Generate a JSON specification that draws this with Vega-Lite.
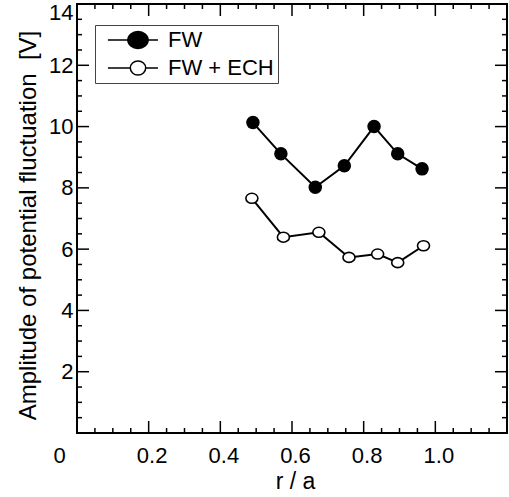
{
  "$schema": "https://vega.github.io/schema/vega-lite/v6.json",
  "width": 430,
  "height": 429,
  "autosize": {"type": "none"},
  "padding": {"left": 77, "top": 4, "right": 2, "bottom": 64},
  "view": {"stroke": null},
  "data": {
    "values": [
      {"r": 0.491, "amp": 10.13, "series": "FW"},
      {"r": 0.569, "amp": 9.11, "series": "FW"},
      {"r": 0.665, "amp": 8.02, "series": "FW"},
      {"r": 0.746, "amp": 8.72, "series": "FW"},
      {"r": 0.829, "amp": 10.0, "series": "FW"},
      {"r": 0.895, "amp": 9.11, "series": "FW"},
      {"r": 0.963, "amp": 8.62, "series": "FW"},
      {"r": 0.488, "amp": 7.66, "series": "FW + ECH"},
      {"r": 0.576, "amp": 6.39, "series": "FW + ECH"},
      {"r": 0.675, "amp": 6.55, "series": "FW + ECH"},
      {"r": 0.759, "amp": 5.73, "series": "FW + ECH"},
      {"r": 0.839, "amp": 5.84, "series": "FW + ECH"},
      {"r": 0.895, "amp": 5.56, "series": "FW + ECH"},
      {"r": 0.967, "amp": 6.11, "series": "FW + ECH"}
    ]
  },
  "datasets": {
    "xmaj": [{"v": 0.2}, {"v": 0.4}, {"v": 0.6}, {"v": 0.8}, {"v": 1.0}],
    "xmin": [{"v": 0.05}, {"v": 0.1}, {"v": 0.15}, {"v": 0.25}, {"v": 0.3}, {"v": 0.35}, {"v": 0.45}, {"v": 0.5}, {"v": 0.55}, {"v": 0.65}, {"v": 0.7}, {"v": 0.75}, {"v": 0.85}, {"v": 0.9}, {"v": 0.95}, {"v": 1.05}, {"v": 1.1}, {"v": 1.15}],
    "ymaj": [{"v": 2}, {"v": 4}, {"v": 6}, {"v": 8}, {"v": 10}, {"v": 12}],
    "ymin": [{"v": 0.5}, {"v": 1}, {"v": 1.5}, {"v": 2.5}, {"v": 3}, {"v": 3.5}, {"v": 4.5}, {"v": 5}, {"v": 5.5}, {"v": 6.5}, {"v": 7}, {"v": 7.5}, {"v": 8.5}, {"v": 9}, {"v": 9.5}, {"v": 10.5}, {"v": 11}, {"v": 11.5}, {"v": 12.5}, {"v": 13}, {"v": 13.5}],
    "frame": [{}]
  },
  "resolve": {"axis": {"x": "independent", "y": "independent"}},
  "layer": [
    {
      "transform": [{"filter": "datum.series == 'FW'"}],
      "mark": {"type": "line", "color": "black", "strokeWidth": 2},
      "encoding": {
        "x": {"field": "r", "type": "quantitative", "scale": {"domain": [0, 1.2], "nice": false, "zero": false},
          "axis": {"orient": "bottom", "values": [0, 0.2, 0.4, 0.6, 0.8, 1.0], "grid": false, "domain": false, "ticks": false, "labelFont": "Liberation Sans", "labelColor": "black", "labelFontSize": 22, "labelPadding": 12, "labelFlush": false, "labelOverlap": false,
            "labelOffset": {"condition": {"test": "datum.value == 0", "value": -18}, "value": 3},
            "labelExpr": "datum.value == 0 ? '0' : format(datum.value, '.1f')",
            "title": "r / a", "titleFont": "Liberation Sans", "titleFontWeight": "normal", "titleColor": "black", "titleFontSize": 23, "titleX": 218, "titleY": 37}},
        "y": {"field": "amp", "type": "quantitative", "scale": {"domain": [0, 14], "nice": false, "zero": false},
          "axis": {"orient": "left", "values": [2, 4, 6, 8, 10, 12, 14], "grid": false, "domain": false, "ticks": false, "labelFont": "Liberation Sans", "labelColor": "black", "labelFontSize": 22, "labelPadding": 4, "labelOverlap": false,
            "labelOffset": {"condition": {"test": "datum.value == 14", "value": 8}, "value": 0},
            "title": "Amplitude of potential fluctuation\u00a0\u00a0[V]", "titleFont": "Liberation Sans", "titleFontWeight": "normal", "titleColor": "black", "titleFontSize": 24, "titlePadding": 8, "titleY": 221}}
      }
    },
    {
      "transform": [{"filter": "datum.series == 'FW + ECH'"}],
      "mark": {"type": "line", "color": "black", "strokeWidth": 2},
      "encoding": {
        "x": {"field": "r", "type": "quantitative", "scale": {"domain": [0, 1.2], "nice": false, "zero": false}, "axis": null},
        "y": {"field": "amp", "type": "quantitative", "scale": {"domain": [0, 14], "nice": false, "zero": false}, "axis": null}
      }
    },
    {
      "transform": [{"filter": "datum.series == 'FW'"}],
      "mark": {"type": "point", "shape": "circle", "filled": true, "color": "black", "size": 182, "opacity": 1},
      "encoding": {
        "x": {"field": "r", "type": "quantitative", "scale": {"domain": [0, 1.2], "nice": false, "zero": false}, "axis": null},
        "y": {"field": "amp", "type": "quantitative", "scale": {"domain": [0, 14], "nice": false, "zero": false}, "axis": null}
      }
    },
    {
      "transform": [{"filter": "datum.series == 'FW + ECH'"}],
      "mark": {"type": "point", "shape": "M-1.2,0A1.2,1,0,1,0,1.2,0A1.2,1,0,1,0,-1.2,0Z", "filled": true, "fill": "white", "stroke": "black", "strokeWidth": 1.6, "size": 100, "opacity": 1},
      "encoding": {
        "x": {"field": "r", "type": "quantitative", "scale": {"domain": [0, 1.2], "nice": false, "zero": false}, "axis": null},
        "y": {"field": "amp", "type": "quantitative", "scale": {"domain": [0, 14], "nice": false, "zero": false}, "axis": null}
      }
    },
    {
      "transform": [{"filter": "datum.amp < 0"}],
      "mark": {"type": "point", "filled": true, "stroke": "black", "strokeWidth": 1.5, "opacity": 1},
      "encoding": {
        "x": {"field": "r", "type": "quantitative", "scale": {"domain": [0, 1.2], "nice": false, "zero": false}, "axis": null},
        "y": {"field": "amp", "type": "quantitative", "scale": {"domain": [0, 14], "nice": false, "zero": false}, "axis": null},
        "shape": {"field": "series", "type": "nominal",
          "scale": {"domain": ["FW", "FW + ECH"], "range": [
            "M-4.3,0L-1.45,0M1.45,0L2.85,0M-1.45,0A1.45,1.2,0,1,0,1.45,0A1.45,1.2,0,1,0,-1.45,0Z",
            "M-4.3,0L-1.1,0M1.1,0L2.85,0M-1.1,0A1.1,1,0,1,0,1.1,0A1.1,1,0,1,0,-1.1,0Z"]},
          "legend": {"title": null, "orient": "none", "legendX": 18, "legendY": 21, "strokeColor": "#444", "fillColor": "white", "padding": 4, "symbolSize": 196, "symbolOffset": 28, "labelOffset": 19, "labelFontSize": 22, "labelFont": "Liberation Sans", "labelColor": "black", "rowPadding": 5, "symbolStrokeColor": "black", "symbolStrokeWidth": 1.5, "symbolOpacity": 1,
            "encode": {"symbols": {"update": {"stroke": {"value": "black"}, "strokeWidth": {"value": 1.5}}}}}},
        "fill": {"field": "series", "type": "nominal",
          "scale": {"domain": ["FW", "FW + ECH"], "range": ["black", "white"]},
          "legend": {"title": null, "orient": "none", "legendX": 18, "legendY": 21, "strokeColor": "#444", "fillColor": "white", "padding": 4, "symbolSize": 196, "symbolOffset": 28, "labelOffset": 19, "labelFontSize": 22, "labelFont": "Liberation Sans", "labelColor": "black", "rowPadding": 5, "symbolStrokeColor": "black", "symbolStrokeWidth": 1.5, "symbolOpacity": 1,
            "encode": {"symbols": {"update": {"stroke": {"value": "black"}, "strokeWidth": {"value": 1.5}}}}}}
      }
    },
    {
      "data": {"name": "xmaj"},
      "mark": {"type": "tick", "orient": "vertical", "size": 24, "thickness": 1.5, "color": "black", "opacity": 1, "clip": true},
      "encoding": {
        "x": {"field": "v", "type": "quantitative", "scale": {"domain": [0, 1.2], "nice": false, "zero": false}, "axis": null},
        "y": {"datum": 0, "type": "quantitative", "scale": {"domain": [0, 14], "nice": false, "zero": false}, "axis": null}
      }
    },
    {
      "data": {"name": "xmaj"},
      "mark": {"type": "tick", "orient": "vertical", "size": 24, "thickness": 1.5, "color": "black", "opacity": 1, "clip": true},
      "encoding": {
        "x": {"field": "v", "type": "quantitative", "scale": {"domain": [0, 1.2], "nice": false, "zero": false}, "axis": null},
        "y": {"datum": 14, "type": "quantitative", "scale": {"domain": [0, 14], "nice": false, "zero": false}, "axis": null}
      }
    },
    {
      "data": {"name": "xmin"},
      "mark": {"type": "tick", "orient": "vertical", "size": 10, "thickness": 1.5, "color": "black", "opacity": 1, "clip": true},
      "encoding": {
        "x": {"field": "v", "type": "quantitative", "scale": {"domain": [0, 1.2], "nice": false, "zero": false}, "axis": null},
        "y": {"datum": 0, "type": "quantitative", "scale": {"domain": [0, 14], "nice": false, "zero": false}, "axis": null}
      }
    },
    {
      "data": {"name": "xmin"},
      "mark": {"type": "tick", "orient": "vertical", "size": 10, "thickness": 1.5, "color": "black", "opacity": 1, "clip": true},
      "encoding": {
        "x": {"field": "v", "type": "quantitative", "scale": {"domain": [0, 1.2], "nice": false, "zero": false}, "axis": null},
        "y": {"datum": 14, "type": "quantitative", "scale": {"domain": [0, 14], "nice": false, "zero": false}, "axis": null}
      }
    },
    {
      "data": {"name": "ymaj"},
      "mark": {"type": "tick", "orient": "horizontal", "size": 24, "thickness": 1.5, "color": "black", "opacity": 1, "clip": true},
      "encoding": {
        "x": {"datum": 0, "type": "quantitative", "scale": {"domain": [0, 1.2], "nice": false, "zero": false}, "axis": null},
        "y": {"field": "v", "type": "quantitative", "scale": {"domain": [0, 14], "nice": false, "zero": false}, "axis": null}
      }
    },
    {
      "data": {"name": "ymaj"},
      "mark": {"type": "tick", "orient": "horizontal", "size": 24, "thickness": 1.5, "color": "black", "opacity": 1, "clip": true},
      "encoding": {
        "x": {"datum": 1.2, "type": "quantitative", "scale": {"domain": [0, 1.2], "nice": false, "zero": false}, "axis": null},
        "y": {"field": "v", "type": "quantitative", "scale": {"domain": [0, 14], "nice": false, "zero": false}, "axis": null}
      }
    },
    {
      "data": {"name": "ymin"},
      "mark": {"type": "tick", "orient": "horizontal", "size": 10, "thickness": 1.5, "color": "black", "opacity": 1, "clip": true},
      "encoding": {
        "x": {"datum": 0, "type": "quantitative", "scale": {"domain": [0, 1.2], "nice": false, "zero": false}, "axis": null},
        "y": {"field": "v", "type": "quantitative", "scale": {"domain": [0, 14], "nice": false, "zero": false}, "axis": null}
      }
    },
    {
      "data": {"name": "ymin"},
      "mark": {"type": "tick", "orient": "horizontal", "size": 10, "thickness": 1.5, "color": "black", "opacity": 1, "clip": true},
      "encoding": {
        "x": {"datum": 1.2, "type": "quantitative", "scale": {"domain": [0, 1.2], "nice": false, "zero": false}, "axis": null},
        "y": {"field": "v", "type": "quantitative", "scale": {"domain": [0, 14], "nice": false, "zero": false}, "axis": null}
      }
    },
    {
      "data": {"name": "frame"},
      "mark": {"type": "rect", "fill": "white", "fillOpacity": 0, "stroke": "black", "strokeWidth": 2, "opacity": 1},
      "encoding": {
        "x": {"datum": 0, "type": "quantitative", "scale": {"domain": [0, 1.2], "nice": false, "zero": false}, "axis": null},
        "x2": {"datum": 1.2},
        "y": {"datum": 0, "type": "quantitative", "scale": {"domain": [0, 14], "nice": false, "zero": false}, "axis": null},
        "y2": {"datum": 14}
      }
    }
  ]
}
